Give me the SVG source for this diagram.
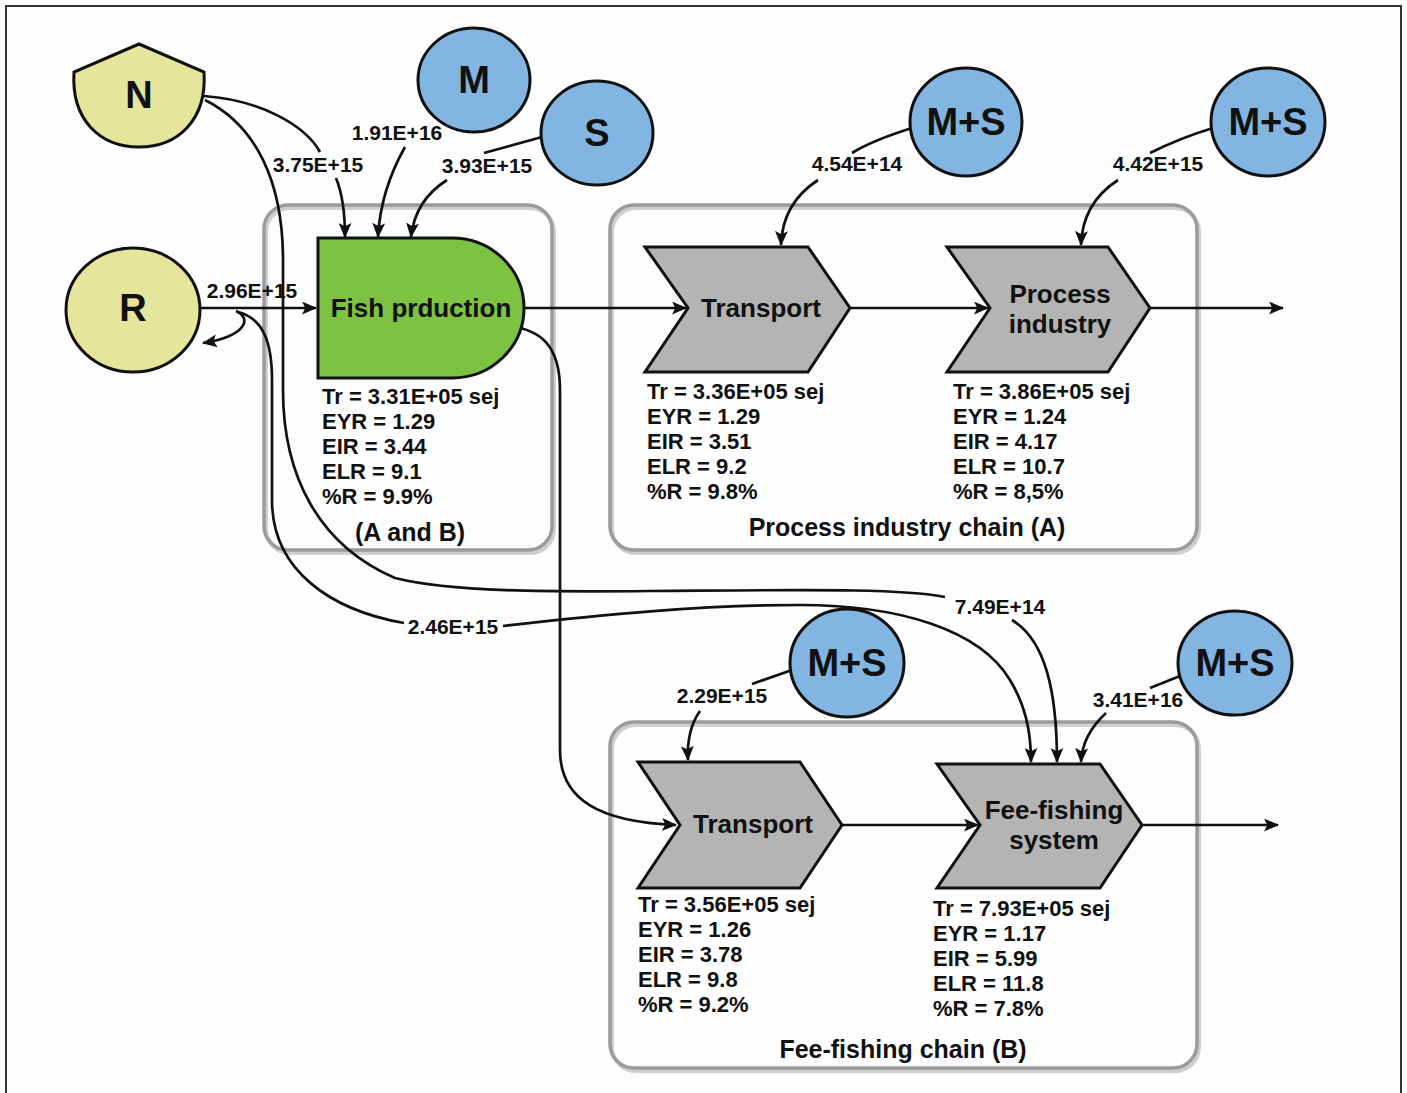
<svg xmlns="http://www.w3.org/2000/svg" width="1407" height="1093" viewBox="0 0 1407 1093">
<style>
text{font-family:"Liberation Sans",Arial,sans-serif;font-weight:bold;fill:#111}
.big{font-size:38px;text-anchor:middle;dominant-baseline:central}
.nt{font-size:26px;text-anchor:middle}
.st{font-size:22px}
.lb{font-size:21px;text-anchor:middle}
.gl{font-size:25px;text-anchor:middle}
.yel{fill:#e5e59b;stroke:#111;stroke-width:3}
.blue{fill:#82b5e2;stroke:#111;stroke-width:3}
.chev{fill:#b4b4b4;stroke:#111;stroke-width:3}
.grp{fill:none;stroke:#9b9b9b;stroke-width:3.5}
.shd{fill:none;stroke:#cfcfcf;stroke-width:4}
.c{fill:none;stroke:#111;stroke-width:2.7}
</style>
<defs>
<marker id="ah" viewBox="0 0 14 12" refX="13" refY="6" markerWidth="15" markerHeight="13" markerUnits="userSpaceOnUse" orient="auto">
<path d="M0,0 L14,6 L0,12 L3,6 Z" fill="#111"/>
</marker>
</defs>
<rect width="1407" height="1093" fill="#fdfdfd"/>
<path d="M6,1093 L6,6 L1401,6 L1401,1093" fill="none" stroke="#333" stroke-width="2"/>

<g id="group-AB">
<rect class="shd" x="266" y="208" width="288" height="345" rx="24"/>
<rect class="grp" x="264" y="205" width="288" height="345" rx="24"/>
<text class="gl" x="410" y="541">(A and B)</text>
</g>
<g id="group-A">
<rect class="shd" x="612" y="208" width="587" height="345" rx="24"/>
<rect class="grp" x="610" y="205" width="587" height="345" rx="24"/>
<text class="gl" x="907" y="536">Process industry chain (A)</text>
</g>
<g id="group-B">
<rect class="shd" x="612" y="725" width="587" height="346" rx="24"/>
<rect class="grp" x="610" y="722" width="587" height="346" rx="24"/>
<text class="gl" x="903" y="1058">Fee-fishing chain (B)</text>
</g>

<g id="connectors">
<path class="c" d="M200,308 L316,308" marker-end="url(#ah)"/>
<path class="c" d="M523,308 L686,308" marker-end="url(#ah)"/>
<path class="c" d="M850,308 L988,308" marker-end="url(#ah)"/>
<path class="c" d="M1150,308 L1283,308" marker-end="url(#ah)"/>
<path class="c" d="M842,825 L978,825" marker-end="url(#ah)"/>
<path class="c" d="M1142,825 L1278,825" marker-end="url(#ah)"/>
<path class="c" d="M204,96 C260,100 305,125 320,152"/>
<path class="c" d="M336,178 C343,195 345,215 345,237" marker-end="url(#ah)"/>
<path class="c" d="M405,147 C392,170 380,200 378,237" marker-end="url(#ah)"/>
<path class="c" d="M542,137 L484,153"/>
<path class="c" d="M447,180 C428,192 414,210 411,237" marker-end="url(#ah)"/>
<path class="c" d="M912,128 C880,138 860,148 852,153"/>
<path class="c" d="M818,180 C795,195 782,215 781,245" marker-end="url(#ah)"/>
<path class="c" d="M1213,128 C1180,138 1160,148 1150,153"/>
<path class="c" d="M1118,180 C1095,195 1082,215 1081,245" marker-end="url(#ah)"/>
<path class="c" d="M792,670 L752,684"/>
<path class="c" d="M700,711 C690,725 687,740 688,760" marker-end="url(#ah)"/>
<path class="c" d="M1180,676 L1150,688"/>
<path class="c" d="M1106,713 C1093,725 1082,740 1081,762" marker-end="url(#ah)"/>
<path class="c" d="M205,100 C255,125 283,180 283,260 L283,390 C283,475 318,545 395,578 C450,592 550,592 650,591 C800,590 900,588 945,597"/>
<path class="c" d="M1012,620 C1045,640 1057,690 1057,762" marker-end="url(#ah)"/>
<path class="c" d="M238,312 C262,318 272,340 272,380 L272,500 C272,570 330,610 404,623"/>
<path class="c" d="M503,626 C600,615 700,605 800,605 C900,605 980,630 1010,680 C1025,705 1031,730 1031,762" marker-end="url(#ah)"/>
<path class="c" d="M510,326 C540,330 560,345 560,390 L560,750 C560,800 600,822 676,825" marker-end="url(#ah)"/>
<path class="c" d="M236,311 C252,318 247,336 203,343" marker-end="url(#ah)"/>
<text class="lb" x="318" y="172">3.75E+15</text>
<text class="lb" x="397" y="140">1.91E+16</text>
<text class="lb" x="487" y="173">3.93E+15</text>
<text class="lb" x="252" y="298">2.96E+15</text>
<text class="lb" x="857" y="171">4.54E+14</text>
<text class="lb" x="1158" y="171">4.42E+15</text>
<text class="lb" x="1000" y="614">7.49E+14</text>
<text class="lb" x="453" y="634">2.46E+15</text>
<text class="lb" x="722" y="703">2.29E+15</text>
<text class="lb" x="1138" y="707">3.41E+16</text>
</g>

<g id="node-N">
<path class="yel" d="M139,44 L204,72 C207,120 178,147 139,147 C100,147 71,120 74,72 Z"/>
<text class="big" x="139" y="95">N</text>
</g>
<g id="node-M">
<ellipse class="blue" cx="474" cy="80" rx="56" ry="52"/>
<text class="big" x="474" y="80">M</text>
</g>
<g id="node-S">
<ellipse class="blue" cx="597" cy="133" rx="56" ry="52"/>
<text class="big" x="597" y="133">S</text>
</g>
<g id="node-R">
<ellipse class="yel" cx="133" cy="310" rx="67" ry="62"/>
<text class="big" x="133" y="308">R</text>
</g>
<g id="node-MS1">
<ellipse class="blue" cx="966" cy="122" rx="56" ry="54"/>
<text class="big" x="966" y="122">M+S</text>
</g>
<g id="node-MS2">
<ellipse class="blue" cx="1268" cy="122" rx="57" ry="54"/>
<text class="big" x="1268" y="122">M+S</text>
</g>
<g id="node-MS3">
<ellipse class="blue" cx="847" cy="663" rx="57" ry="54"/>
<text class="big" x="847" y="663">M+S</text>
</g>
<g id="node-MS4">
<ellipse class="blue" cx="1235" cy="663" rx="57" ry="52"/>
<text class="big" x="1235" y="663">M+S</text>
</g>

<g id="node-fish">
<path d="M318,238 L452,238 A72,70 0 0 1 452,378 L318,378 Z" fill="#7dc242" stroke="#111" stroke-width="3"/>
<text class="nt" x="421" y="317">Fish prduction</text>
<text class="st" x="322"><tspan x="322" y="404">Tr = 3.31E+05 sej</tspan><tspan x="322" dy="25">EYR = 1.29</tspan><tspan x="322" dy="25">EIR = 3.44</tspan><tspan x="322" dy="25">ELR = 9.1</tspan><tspan x="322" dy="25">%R = 9.9%</tspan></text>
</g>
<g id="node-transportA">
<path class="chev" d="M645,247 L808,247 L850,308 L808,372 L645,372 L688,308 Z"/>
<text class="nt" x="761" y="317">Transport</text>
<text class="st"><tspan x="647" y="399">Tr = 3.36E+05 sej</tspan><tspan x="647" dy="25">EYR = 1.29</tspan><tspan x="647" dy="25">EIR = 3.51</tspan><tspan x="647" dy="25">ELR = 9.2</tspan><tspan x="647" dy="25">%R = 9.8%</tspan></text>
</g>
<g id="node-process">
<path class="chev" d="M947,247 L1108,247 L1150,308 L1108,372 L947,372 L990,308 Z"/>
<text class="nt" x="1060" y="303">Process</text>
<text class="nt" x="1060" y="333">industry</text>
<text class="st"><tspan x="953" y="399">Tr = 3.86E+05 sej</tspan><tspan x="953" dy="25">EYR = 1.24</tspan><tspan x="953" dy="25">EIR = 4.17</tspan><tspan x="953" dy="25">ELR = 10.7</tspan><tspan x="953" dy="25">%R = 8,5%</tspan></text>
</g>
<g id="node-transportB">
<path class="chev" d="M638,762 L800,762 L842,825 L800,888 L638,888 L680,825 Z"/>
<text class="nt" x="753" y="833">Transport</text>
<text class="st"><tspan x="638" y="912">Tr = 3.56E+05 sej</tspan><tspan x="638" dy="25">EYR = 1.26</tspan><tspan x="638" dy="25">EIR = 3.78</tspan><tspan x="638" dy="25">ELR = 9.8</tspan><tspan x="638" dy="25">%R = 9.2%</tspan></text>
</g>
<g id="node-feefishing">
<path class="chev" d="M937,764 L1100,764 L1142,825 L1100,888 L937,888 L980,825 Z"/>
<text class="nt" x="1054" y="819">Fee-fishing</text>
<text class="nt" x="1054" y="849">system</text>
<text class="st"><tspan x="933" y="916">Tr = 7.93E+05 sej</tspan><tspan x="933" dy="25">EYR = 1.17</tspan><tspan x="933" dy="25">EIR = 5.99</tspan><tspan x="933" dy="25">ELR = 11.8</tspan><tspan x="933" dy="25">%R = 7.8%</tspan></text>
</g>
</svg>
